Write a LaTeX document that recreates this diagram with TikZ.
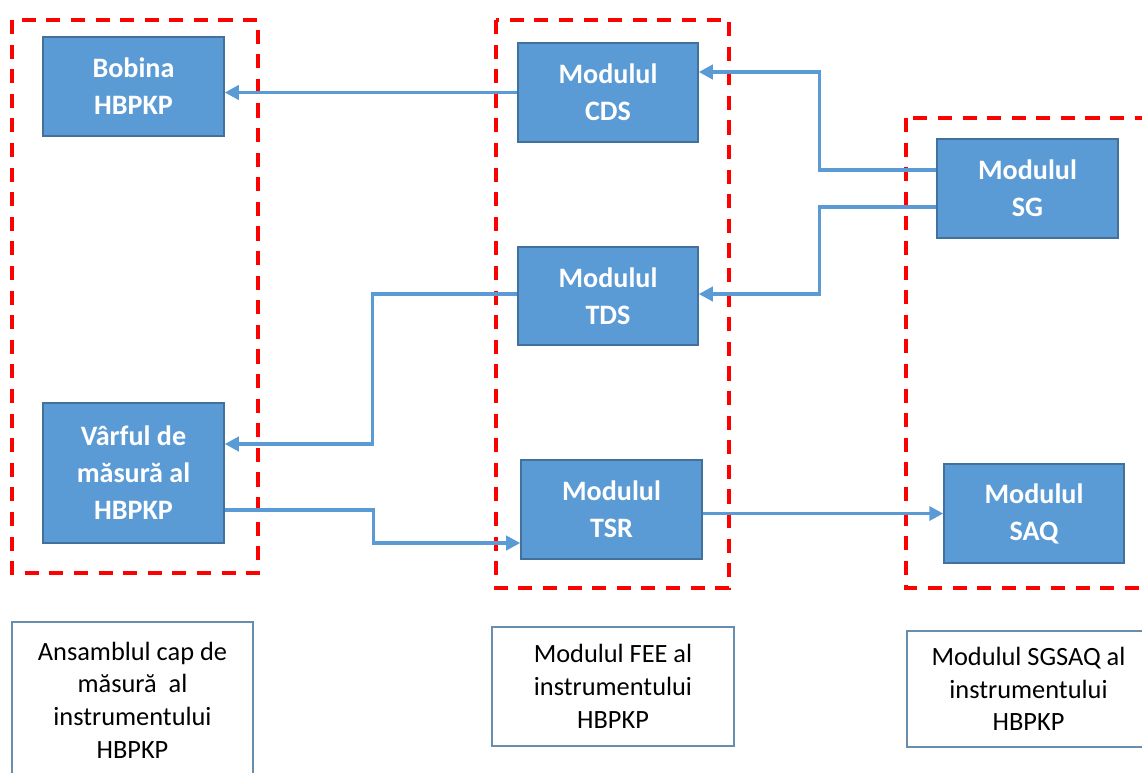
\documentclass[tikz,border=0pt]{standalone}
\usepackage{fontspec}
\setmainfont{Carlito}
\usetikzlibrary{arrows.meta,calc}

\definecolor{boxblue}{HTML}{5B9BD5}
\definecolor{edgeblue}{HTML}{41719C}

\tikzstyle{modul} = [rectangle, draw=edgeblue, line width=0.8pt, fill=boxblue, text=white, align=center, inner sep=0mm, font=\fontsize{16}{21}\selectfont\bfseries]
\tikzstyle{legend} = [rectangle, draw=edgeblue!80, line width=0.9pt, fill=white, align=center, inner sep=0mm, font=\fontsize{15}{18.6}\selectfont]
\tikzstyle{group} = [draw=red, line width=2.2pt, dash pattern=on 8pt off 6pt]
\tikzstyle{link} = [draw=boxblue, line width=2pt, -{Triangle[length=8pt,width=8pt]}]

\begin{document}
\begin{tikzpicture}[x=0.02cm, y=-0.02cm]
		\useasboundingbox (0,0) rectangle (1142,772);
		%\draw[help lines, step=50] (0,0) grid (1142,772);
		% groups
		\draw[group] (12,20) rectangle (258,573);
		\draw[group] (496,20) rectangle (729,588);
		\draw[group] (906,118) rectangle (1160,588);
		% modules
		\foreach \x/\y/\w/\h/\n/\t in {133.5/86.5/181/99/bobina/{Bobina\\HBPKP},
				133.5/473/181/140/varf/{Vârful de\\măsură al\\HBPKP},
				608/92.5/180/99/cds/{Modulul\\CDS},
				608/296/180/98/tds/{Modulul\\TDS},
				611.5/509.5/181/99/tsr/{Modulul\\TSR},
				1027.5/188.5/181/99/sg/{Modulul\\SG},
				1034/513.5/180/99/saq/{Modulul\\SAQ}}
			\node[modul, minimum width=\w*0.02cm, minimum height=\h*0.02cm] (\n) at (\x,\y) {\t};
		% legends
		\node[legend, minimum width=241*0.02cm, minimum height=156*0.02cm] (ansamblu) at (132.5,700) {Ansamblul cap de\\măsură~ al\\instrumentului\\HBPKP};
		\node[legend, minimum width=242*0.02cm, minimum height=119*0.02cm] (fee) at (613,686.5) {Modulul FEE al\\instrumentului\\HBPKP};
		\node[legend, minimum width=243*0.02cm, minimum height=116*0.02cm] (sgsaq) at (1028.5,689) {Modulul SGSAQ al\\instrumentului\\HBPKP};
		% connections
		\draw[link] (cds.west) -- (cds.west -| bobina.east);
		\draw[link] ($(sg.west)+(0,-18.5)$) -- ++(-117,0) |- ($(cds.east)+(0,-20.5)$);
		\draw[link] ($(sg.west)+(0,18.5)$) -- ++(-117,0) |- ($(tds.east)+(0,-2)$);
		\draw[link] ($(tds.west)+(0,-2)$) -- ++(-145,0) |- ($(varf.east)+(0,-29)$);
		\draw[link] ($(varf.east)+(0,37)$) -- ++(149,0) |- ($(tsr.west)+(0,33.5)$);
		\draw[link] ($(tsr.east)+(0,4)$) -- (saq.west);
	\end{tikzpicture}
\end{document}
